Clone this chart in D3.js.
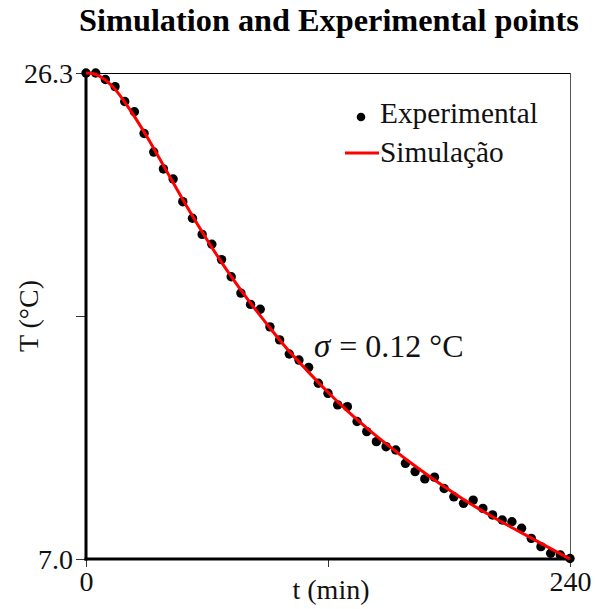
<!DOCTYPE html>
<html>
<head>
<meta charset="utf-8">
<script src="https://cdn.jsdelivr.net/npm/d3@7"></script>
<style>
  html, body { margin: 0; padding: 0; background: #fff; }
  svg { display: block; font-family: "Liberation Serif", "Times New Roman", serif; }
</style>
</head>
<body>
<svg id="chart" width="595" height="609"></svg>
<script>
// Measured cooling: time (min) and temperature (°C)
const expTime = [0, 4.8, 9.6, 14.4, 19.2, 24, 28.8, 33.6, 38.4, 43.2,
  48, 52.8, 57.6, 62.4, 67.2, 72, 76.8, 81.6, 86.4, 91.2,
  96, 100.8, 105.6, 110.4, 115.2, 120, 124.8, 129.6, 134.4, 139.2,
  144, 148.8, 153.6, 158.4, 163.2, 168, 172.8, 177.6, 182.4, 187.2,
  192, 196.8, 201.6, 206.4, 211.2, 216, 220.8, 225.6, 230.4, 235.2, 240];
const expTemp = [26.3, 26.3, 26.04, 25.76, 25.17, 24.76, 23.90, 23.16, 22.49, 22.09,
  21.19, 20.53, 19.89, 19.50, 18.89, 18.21, 17.56, 17.11, 16.92, 16.22,
  15.70, 15.14, 14.90, 14.61, 13.98, 13.58, 13.12, 13.05, 12.46, 12.06,
  11.66, 11.46, 11.33, 10.80, 10.47, 10.18, 10.25, 9.80, 9.47, 9.21,
  9.34, 9.01, 8.75, 8.55, 8.48, 8.22, 7.82, 7.49, 7.23, 7.16, 7.02];

// Simulated curve
const simTime = [0, 2.5, 5, 10, 15, 20, 25, 30, 40, 50, 60, 70, 80, 90, 100,
  110, 120, 130, 140, 150, 160, 170, 180, 190, 200, 210, 220, 230, 240];
const simTemp = [26.3, 26.29, 26.24, 26.0, 25.6, 25.05, 24.45, 23.8, 22.4, 21.0, 19.68,
  18.45, 17.33, 16.3, 15.32, 14.45, 13.62, 12.85, 12.15, 11.5, 10.88,
  10.3, 9.75, 9.22, 8.75, 8.3, 7.87, 7.43, 7.0];

const xTicks = [0, 120, 240];
const xTickLabels = ["0", "", "240"];
const yTicks = [7.0, 16.65, 26.3];
const yTickLabels = ["7.0", "", "26.3"];

const svg = d3.select("#chart");
const L = 86, R = 570, T = 73, B = 559;

const x = d3.scaleLinear().domain([0, 240]).range([L, R]);
const y = d3.scaleLinear().domain([7.0, 26.3]).range([B, T]);

// Title
svg.append("text")
  .attr("x", 329).attr("y", 31)
  .attr("text-anchor", "middle")
  .attr("font-weight", "bold")
  .attr("font-size", 32.3)
  .attr("fill", "#000")
  .text("Simulation and Experimental points");

// Frame: thin top and right borders
svg.append("line").attr("x1", L).attr("x2", R).attr("y1", T + 0.5).attr("y2", T + 0.5)
  .attr("stroke", "#000").attr("stroke-width", 1);
svg.append("line").attr("x1", R + 0.5).attr("x2", R + 0.5).attr("y1", T).attr("y2", B)
  .attr("stroke", "#555").attr("stroke-width", 1);

// Axes
const xAxis = d3.axisBottom(x).tickValues(xTicks)
  .tickFormat((d, i) => xTickLabels[i]).tickSize(8).tickPadding(2);
const yAxis = d3.axisLeft(y).tickValues(yTicks)
  .tickFormat((d, i) => yTickLabels[i]).tickSize(10).tickPadding(3);

const gx = svg.append("g").attr("transform", `translate(0,${B})`).call(xAxis);
const gy = svg.append("g").attr("transform", `translate(${L},0)`).call(yAxis);

[gx, gy].forEach(g => {
  g.select(".domain").remove();
  g.selectAll(".tick line").attr("stroke", "#333").attr("stroke-width", 1);
  g.selectAll(".tick text")
    .attr("font-family", "Liberation Serif, serif")
    .attr("font-size", 28)
    .attr("fill", "#111");
});
gy.selectAll(".tick text").attr("dy", "0.34em");
gx.selectAll(".tick text").attr("dy", "0.78em");

// Heavy left and bottom axis lines
svg.append("line").attr("x1", L).attr("x2", L).attr("y1", T).attr("y2", B + 1.5)
  .attr("stroke", "#000").attr("stroke-width", 3);
svg.append("line").attr("x1", L - 1.5).attr("x2", R).attr("y1", B).attr("y2", B)
  .attr("stroke", "#000").attr("stroke-width", 3);

// Axis titles
svg.append("text")
  .attr("x", 331).attr("y", 599)
  .attr("text-anchor", "middle")
  .attr("font-size", 28).attr("fill", "#111")
  .text("t (min)");
svg.append("text")
  .attr("transform", "translate(38,316) rotate(-90)")
  .attr("text-anchor", "middle")
  .attr("font-size", 28).attr("fill", "#111")
  .text("T (°C)");

// Experimental points
svg.append("g").selectAll("circle")
  .data(expTime.map((t, i) => [t, expTemp[i]]))
  .join("circle")
  .attr("cx", d => x(d[0]))
  .attr("cy", d => y(d[1]))
  .attr("r", 4.7)
  .attr("fill", "#000");

// Simulation line
const line = d3.line().x(d => x(d[0])).y(d => y(d[1])).curve(d3.curveMonotoneX);
svg.append("path")
  .datum(simTime.map((t, i) => [t, simTemp[i]]))
  .attr("d", line)
  .attr("fill", "none")
  .attr("stroke", "#ff0000")
  .attr("stroke-width", 3);

// Legend
const lg = svg.append("g");
lg.append("circle").attr("cx", 361).attr("cy", 117).attr("r", 4.3).attr("fill", "#000");
lg.append("text").attr("x", 380).attr("y", 123).attr("font-size", 29.3).attr("fill", "#111")
  .text("Experimental");
lg.append("line").attr("x1", 345).attr("x2", 379).attr("y1", 153).attr("y2", 153)
  .attr("stroke", "#ff0000").attr("stroke-width", 3);
lg.append("text").attr("x", 380).attr("y", 162).attr("font-size", 29.3).attr("fill", "#111")
  .text("Simulação");

// Fit quality annotation
const ann = svg.append("text").attr("x", 314).attr("y", 357).attr("font-size", 32).attr("fill", "#111");
ann.append("tspan").attr("font-style", "italic").attr("font-size", 33).text("σ");
ann.append("tspan").attr("dx", 9).text("= 0.12 °C");
</script>
</body>
</html>
